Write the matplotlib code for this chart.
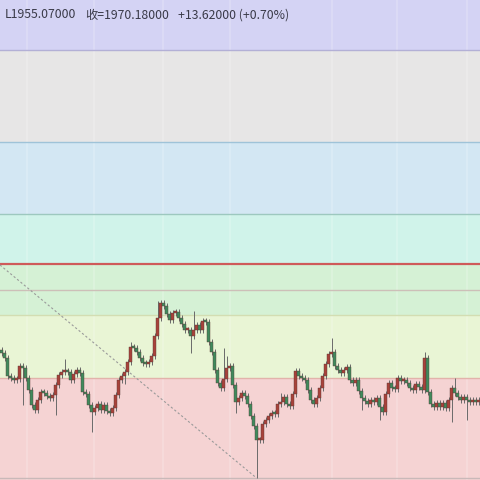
import matplotlib
matplotlib.use('Agg')
import matplotlib.pyplot as plt
import numpy as np

# closing prices, one per candle
closes = [1993.5, 1991, 1982, 1981, 1980, 1980.5, 1987, 1986, 1981, 1975,
          1967.5, 1965, 1970, 1974, 1973.5, 1972, 1971, 1972.5, 1977.5, 1982.5,
          1984, 1984.5, 1984, 1980, 1983, 1985, 1983.5, 1974, 1973, 1967.5,
          1964, 1966, 1968, 1965, 1967.5, 1964.5, 1963.5, 1966, 1972.5, 1980,
          1982, 1984, 1989, 1996.5, 1996, 1994, 1991, 1988.5, 1988, 1989,
          1992, 2002, 2011, 2018.5, 2017, 2013, 2010, 2013.5, 2014, 2011,
          2008, 2005, 2005, 2002, 2005, 2007.5, 2005, 2009.5, 2009, 1999,
          1994, 1985, 1978.5, 1976, 1980.5, 1986, 1987, 1977.5, 1969, 1971,
          1973.5, 1972, 1968, 1962, 1957, 1950, 1950, 1958, 1960, 1962,
          1963.5, 1963, 1968, 1969, 1971.5, 1968, 1967, 1973, 1984.5, 1982,
          1981, 1980, 1975, 1970, 1968, 1971, 1976, 1982, 1988, 1993,
          1994, 1987, 1985, 1983.5, 1985, 1986.5, 1980, 1978.5, 1980, 1974.5,
          1971, 1969.5, 1968, 1970, 1969, 1971, 1966.5, 1964, 1973, 1978.5,
          1976, 1975.5, 1981, 1979.5, 1980, 1978.5, 1976, 1975, 1978, 1976.5,
          1975, 1991, 1974, 1968, 1966.5, 1968.5, 1966.5, 1968.5, 1966, 1970,
          1976, 1973.5, 1971.5, 1970, 1971.5, 1970, 1969, 1970, 1969, 1970]
opens = [1995] + closes[:-1]

# wicks that stick out further than the usual small tail
wick_high = {21: 1990.5, 43: 1999, 52: 2019.5, 64: 2014.5, 74: 1996, 75: 1992,
             93: 1973.5, 110: 2001, 141: 1994, 151: 1981}
wick_low = {7: 1967.5, 18: 1962.5, 30: 1954, 41: 1978, 63: 1993.5, 78: 1963.5,
            85: 1931, 120: 1965, 126: 1960, 150: 1959, 155: 1960}
tail = 1.5

# fibonacci levels (price) and band colours between them
fib_levels = [2145, 2099, 2063, 2038, 2025, 2012.5, 1981, 1931]
fib_line_colors = ['#b3b0d6', '#9fc3d8', '#9dc8bf', '#cf5a5a', '#cdbfb8',
                   '#d3ddb2', '#e2b3ab', '#c9b9b9']
fib_line_widths = [1, 1, 1, 1.6, 1, 1, 1, 1]
band_edges = [2170, 2145, 2099, 2063, 2038, 2012.5, 1981, 1930]
band_colors = ['#d4d3f4', '#e7e6e6', '#d3e7f3', '#d0f3ea', '#d5f1d5',
               '#e9f5d5', '#f5d3d3']

# diagonal trend line (candle index, price)
trend_x = [-0.5, 85]
trend_y = [2037.5, 1931]

# vertical grid positions (candle index)
grid_x = [8.5, 30.8, 53.8, 76.2, 110.2, 131.8, 155.2]

header = ['L1955.07000', '收=1970.18000', '+13.62000 (+0.70%)']
header_x = [5, 85, 178]

up_color = '#a8423a'
down_color = '#3f8a5c'

fig = plt.figure(figsize=(4.8, 4.8), dpi=100)
ax = fig.add_axes([0, 0, 1, 1])
ax.set_xlim(-0.5, len(closes) - 0.5)
ax.set_ylim(1930, 2170)
ax.axis('off')

for i in range(len(band_colors)):
    ax.axhspan(band_edges[i + 1], band_edges[i], color=band_colors[i], lw=0, zorder=0)

for gx in grid_x:
    ax.axvline(gx, color='#ffffff', alpha=0.18, lw=1.5, zorder=1)

for lvl, c, w in zip(fib_levels, fib_line_colors, fib_line_widths):
    ax.axhline(lvl, color=c, lw=w, zorder=2)

ax.plot(trend_x, trend_y, color='#9a9a9a', lw=0.8, ls=(0, (2, 2)), zorder=2)

for i, (o, c) in enumerate(zip(opens, closes)):
    hi = wick_high.get(i, max(o, c) + tail)
    lo = wick_low.get(i, min(o, c) - tail)
    col = up_color if c >= o else down_color
    ax.vlines(i, lo, hi, color='#6a6a6a', lw=0.7, zorder=3)
    body = max(abs(c - o), 0.8)
    ax.bar(i, body, bottom=min(o, c), width=0.8, color=col,
           edgecolor='#5a3a36', lw=0.3, zorder=4)

for t, x in zip(header, header_x):
    fig.text(x / 480, 1 - 15 / 480, t, fontsize=8.8, color='#3a3a48', va='center',
             family=['Noto Sans CJK SC', 'DejaVu Sans'])

fig.savefig('out.png', dpi=100)
